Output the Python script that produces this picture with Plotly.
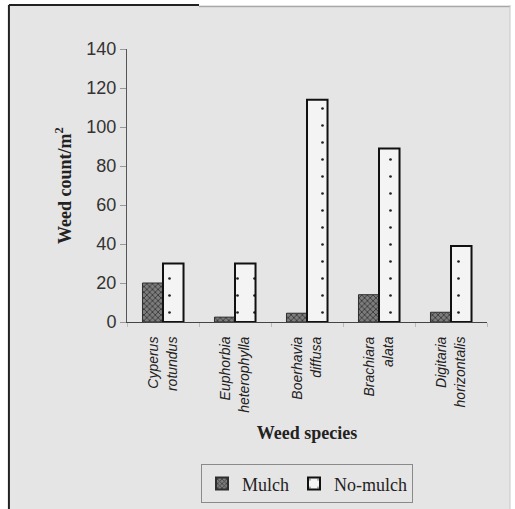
import plotly.graph_objects as go

# Weed density per square metre, by species and treatment
species = [
    "Cyperus<br>rotundus",
    "Euphorbia<br>heterophylla",
    "Boerhavia<br>diffusa",
    "Brachiara<br>alata",
    "Digitaria<br>horizontalis",
]
mulch = [20, 2.5, 4.5, 14, 5]
no_mulch = [30, 30, 114, 89, 39]
y_ticks = [0, 20, 40, 60, 80, 100, 120, 140]

BG = "#e6e5e5"
SERIF = "Liberation Serif, Times New Roman, serif"
SANS = "Liberation Sans, Arial, sans-serif"

fig = go.Figure()
fig.add_trace(go.Bar(
    name="Mulch", x=species, y=mulch,
    marker=dict(
        color="#6f6f6f",
        line=dict(color="#2e2e2e", width=1),
        pattern=dict(shape="x", fgcolor="#3a3a3a", bgcolor="#7c7c7c",
                     size=4, solidity=0.4, fillmode="replace"),
    ),
))
fig.add_trace(go.Bar(
    name="No-mulch", x=species, y=no_mulch,
    marker=dict(
        color="#f4f4f4",
        line=dict(color="#111111", width=2),
        pattern=dict(shape=".", fgcolor="#222222", bgcolor="#f4f4f4",
                     size=17, solidity=0.02, fillmode="replace"),
    ),
))

# Framed grey panel behind the whole chart
fig.add_shape(type="rect", xref="paper", yref="paper", layer="below",
              x0=-0.328, x1=1.064, y0=-0.70, y1=1.161,
              fillcolor=BG, line=dict(width=0))
fig.add_shape(type="line", xref="paper", yref="paper",
              x0=-0.328, x1=-0.328, y0=-0.70, y1=1.161,
              line=dict(color="#222222", width=2))
fig.add_shape(type="line", xref="paper", yref="paper",
              x0=-0.328, x1=0.20, y0=1.161, y1=1.161,
              line=dict(color="#222222", width=2))
fig.add_shape(type="line", xref="paper", yref="paper",
              x0=0.20, x1=1.064, y0=1.155, y1=1.155,
              line=dict(color="#9a9a9a", width=1))
fig.add_shape(type="line", xref="paper", yref="paper",
              x0=1.064, x1=1.064, y0=-0.70, y1=1.161,
              line=dict(color="#c8c8c8", width=1))

fig.update_layout(
    width=515, height=509,
    margin=dict(l=127, r=28, t=49, b=187, autoexpand=False),
    paper_bgcolor="white",
    plot_bgcolor=BG,
    barmode="group",
    bargap=0.43,
    bargroupgap=0,
    showlegend=True,
    legend=dict(
        orientation="h", x=0.5, xanchor="center", y=-0.593, yanchor="middle",
        bgcolor=BG, bordercolor="#8a8a8a", borderwidth=1,
        font=dict(family=SERIF, size=18, color="#222222"),
        itemwidth=30, itemsizing="constant", tracegroupgap=0,
    ),
    xaxis=dict(
        type="category", automargin=False,
        showline=True, linecolor="#444444", linewidth=1,
        ticks="outside", tickson="boundaries", ticklen=4, tickcolor="#bbbbbb",
        tickangle=-90, ticklabelstandoff=8,
        tickfont=dict(family=SANS, size=14, color="#222222", style="italic"),
        title=dict(text="<b>Weed species</b>", standoff=14,
                   font=dict(family=SERIF, size=18, color="#222222")),
        showgrid=False, zeroline=False,
    ),
    yaxis=dict(
        range=[0, 140], tickvals=y_ticks, automargin=False,
        showline=True, linecolor="#555555", linewidth=1,
        ticks="outside", ticklen=6, tickcolor="#999999",
        tickfont=dict(family=SANS, size=18, color="#333333"),
        title=dict(text="<b>Weed count/m<sup>2</sup></b>", standoff=10,
                   font=dict(family=SERIF, size=18, color="#222222")),
        showgrid=False, zeroline=False,
    ),
)

fig.write_html("out.html")
